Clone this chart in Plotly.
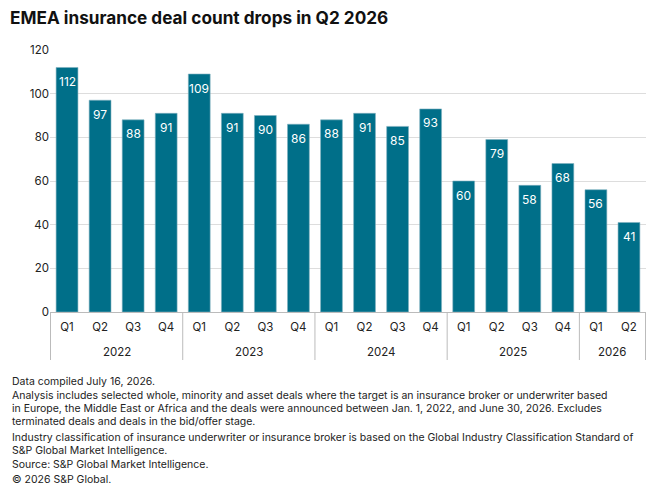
import plotly.graph_objects as go

years = ["2022"] * 4 + ["2023"] * 4 + ["2024"] * 4 + ["2025"] * 4 + ["2026"] * 2
quarters = ["Q1", "Q2", "Q3", "Q4"] * 4 + ["Q1", "Q2"]
deal_counts = [112, 97, 88, 91, 109, 91, 90, 86, 88, 91, 85, 93, 60, 79, 58, 68, 56, 41]
y_ticks = [0, 20, 40, 60, 80, 100, 120]

title_text = "EMEA insurance deal count drops in Q2 2026"
footnote_lines = [
    "Data compiled July 16, 2026.",
    "Analysis includes selected whole, minority and asset deals where the target is an insurance broker or underwriter based",
    "in Europe, the Middle East or Africa and the deals were announced between Jan. 1, 2022, and June 30, 2026. Excludes",
    "terminated deals and deals in the bid/offer stage.",
    "Industry classification of insurance underwriter or insurance broker is based on the Global Industry Classification Standard of",
    "S&P Global Market Intelligence.",
    "Source: S&P Global Market Intelligence.",
    "© 2026 S&P Global.",
]
footnote_y = [381, 395, 408, 421, 437, 450, 464, 479]

FONT = "Inter"
BAR = "#006F89"
W, H = 660, 495
ML, MR, MT, MB = 50, 14, 50, 183
PH = H - MT - MB
PW = W - ML - MR

cats = [f"{q} {y}" for q, y in zip(quarters, years)]

fig = go.Figure(
    go.Bar(
        x=cats,
        y=deal_counts,
        marker=dict(color=BAR, line=dict(width=0.6, color="#7FB0BF")),
        width=0.66,
        hoverinfo="skip",
    )
)

fig.update_layout(
    width=W,
    height=H,
    margin=dict(l=ML, r=MR, t=MT, b=MB),
    paper_bgcolor="white",
    plot_bgcolor="white",
    showlegend=False,
    font=dict(family=FONT, color="#222222", size=11),
    title=dict(
        text="<b>" + title_text + "</b>",
        x=10 / W,
        xanchor="left",
        y=1 - 18 / H,
        yanchor="middle",
        font=dict(size=17.2, family=FONT, color="#111111"),
    ),
)

fig.update_yaxes(
    range=[0, 120],
    tickvals=y_ticks,
    showgrid=True,
    gridcolor="#DDDDDD",
    gridwidth=1,
    zeroline=False,
    showline=False,
    ticks="",
    tickfont=dict(size=11.5, family=FONT, color="#222222"),
)

fig.update_xaxes(
    type="category",
    tickvals=cats,
    ticktext=quarters,
    showline=True,
    linecolor="#BBBBBB",
    linewidth=1,
    ticks="",
    ticklabelstandoff=4,
    tickfont=dict(size=11.5, family=FONT, color="#222222"),
    showgrid=False,
)

shapes = []
annots = []

# value labels inside bar tops
for c, v in zip(cats, deal_counts):
    annots.append(
        dict(
            text=str(v),
            x=c,
            xref="x",
            y=v,
            yref="y",
            yshift=-14,
            showarrow=False,
            xanchor="center",
            yanchor="middle",
            font=dict(size=12, family=FONT, color="white"),
        )
    )

# year group labels and dividers (positions from category indices)
groups = []
for i, y in enumerate(years):
    if not groups or groups[-1][0] != y:
        groups.append([y, i, i])
    else:
        groups[-1][2] = i
div_bottom = -(360 - (H - MB)) / PH
for y, a, b in groups:
    annots.append(
        dict(
            text=y,
            x=(a + b) / 2,
            xref="x",
            y=-(352 - (H - MB)) / PH,
            yref="paper",
            showarrow=False,
            xanchor="center",
            yanchor="middle",
            font=dict(size=11.5, family=FONT, color="#222222"),
        )
    )
    shapes.append(
        dict(type="line", xref="x", yref="paper", x0=a - 0.5, x1=a - 0.5,
             y0=0, y1=div_bottom, line=dict(color="#BBBBBB", width=1))
    )
shapes.append(
    dict(type="line", xref="x", yref="paper", x0=len(years) - 0.5, x1=len(years) - 0.5,
         y0=0, y1=div_bottom, line=dict(color="#BBBBBB", width=1))
)

for txt, yp in zip(footnote_lines, footnote_y):
    annots.append(
        dict(
            text=txt,
            xref="paper",
            yref="paper",
            x=-(ML - 10) / PW,
            y=1 - (yp - MT) / PH,
            xanchor="left",
            yanchor="middle",
            align="left",
            showarrow=False,
            font=dict(size=10.5, family=FONT, color="#222222"),
        )
    )

fig.update_layout(annotations=annots, shapes=shapes)

fig.write_html("out.html")
